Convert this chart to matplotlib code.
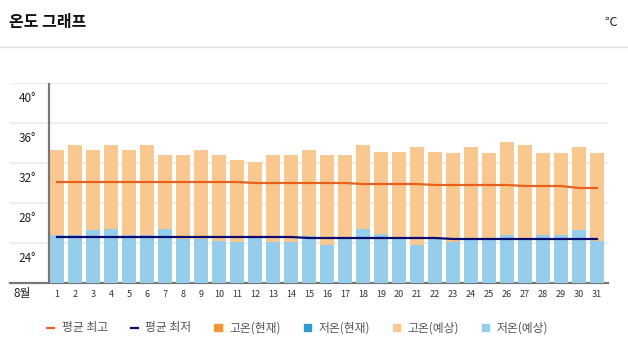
import matplotlib
matplotlib.use("Agg")
import matplotlib.pyplot as plt
from matplotlib.lines import Line2D
from matplotlib.patches import Patch

plt.rcParams['font.family'] = ['Noto Sans CJK KR', 'DejaVu Sans']

# Data (August, daily)
days = list(range(1, 32))
high_forecast = [33.3, 33.8, 33.3, 33.8, 33.3, 33.8, 32.8, 32.8, 33.3, 32.8,
                 32.3, 32.1, 32.8, 32.8, 33.3, 32.8, 32.8, 33.8, 33.1, 33.1,
                 33.6, 33.1, 33.0, 33.6, 33.0, 34.1, 33.8, 33.0, 33.0, 33.6, 33.0]
low_forecast = [24.8, 24.8, 25.3, 25.4, 24.8, 24.8, 25.4, 24.4, 24.4, 24.2,
                24.1, 24.7, 24.1, 24.1, 24.7, 23.8, 24.6, 25.4, 24.9, 24.5,
                23.8, 24.4, 24.1, 24.5, 24.3, 24.8, 24.3, 24.8, 24.8, 25.3, 24.2]
avg_high = [30.1] * 11 + [30.0] * 6 + [29.9] * 4 + [29.8] * 5 + [29.7] * 3 + [29.5] * 2
avg_low = [24.6] * 14 + [24.5] * 8 + [24.4] * 9
y_ticks = [40, 36, 32, 28, 24]
y_labels = ["40°", "36°", "32°", "28°", "24°"]

c_high = "#f9c890"
c_low = "#95cdea"
c_avg_high = "#e8621e"
c_avg_low = "#0b0b70"

fig = plt.figure(figsize=(6.28, 3.54), dpi=100)
ax = fig.add_axes([10 / 628, 1 - 283 / 354, 598 / 628, 200 / 354])

ax.bar(days, high_forecast, width=0.78, bottom=0, color=c_high, zorder=2)
ax.bar(days, low_forecast, width=0.78, bottom=0, color=c_low, zorder=3)
ax.plot(days, avg_high, color=c_avg_high, lw=1.6, zorder=4)
ax.plot(days, avg_low, color=c_avg_low, lw=1.6, zorder=4)

ax.set_xlim(1 - 47 / 18, 31 + 11 / 18)
ax.set_ylim(20, 40)

# grid lines and axis lines
for t in y_ticks:
    ax.axhline(t, color="#eeeeee", lw=1.6, zorder=1)
ax.axvline(1 - 8 / 18, color="#777777", lw=1.6, zorder=5)
for s in ["top", "right", "left"]:
    ax.spines[s].set_visible(False)
ax.spines["bottom"].set_color("#777777")
ax.spines["bottom"].set_linewidth(1.6)

# y labels sit below their grid lines
ax.set_yticks([])
for t, lab in zip(y_ticks, y_labels):
    ax.text(1 - 21 / 18, t - 1.5, lab, ha="right", va="center", fontsize=8.5, color="#222222")

ax.set_xticks(days)
ax.set_xticklabels([str(d) for d in days], fontsize=6.5, color="#333333")
ax.tick_params(axis="x", length=0, pad=5)
ax.text(1 - 35 / 18, 18.95, "8월", ha="center", va="center", fontsize=8.5, color="#222222")

# header
fig.text(9 / 628, 1 - 22.5 / 354, "온도 그래프", fontsize=11.5, fontweight="bold", va="center", color="#111111")
fig.text(617 / 628, 1 - 22.5 / 354, "℃", fontsize=9, va="center", ha="right", color="#222222")
fig.add_artist(Line2D([0, 1], [1 - 46.5 / 354] * 2, color="#dddddd", lw=1))

handles = [
    Line2D([], [], color=c_avg_high, lw=1.6),
    Line2D([], [], color=c_avg_low, lw=1.6),
    Patch(color="#f0963f"),
    Patch(color="#2e9bd6"),
    Patch(color=c_high),
    Patch(color=c_low),
]
labels = ["평균 최고", "평균 최저", "고온(현재)", "저온(현재)", "고온(예상)", "저온(예상)"]
leg = fig.legend(handles, labels, loc="center left", bbox_to_anchor=(41 / 628, 1 - 328 / 354), ncol=6,
                 frameon=False, fontsize=8.5, handlelength=0.6, handleheight=0.6, borderpad=0,
                 handletextpad=0.64, columnspacing=1.95)
for txt in leg.get_texts():
    txt.set_color("#555555")

fig.savefig("out.png", dpi=100)
